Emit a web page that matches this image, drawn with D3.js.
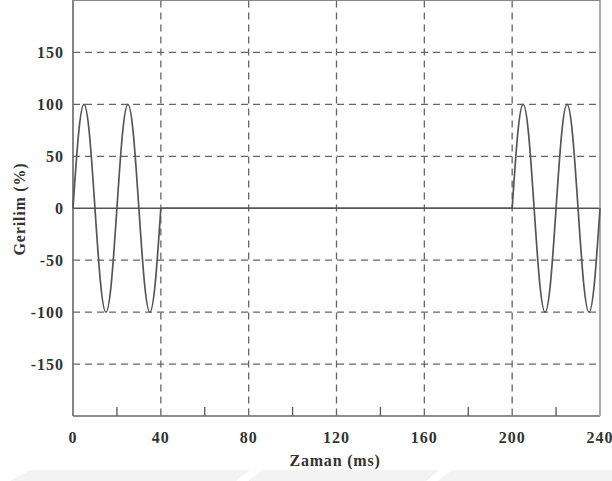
<!DOCTYPE html>
<html>
<head>
<meta charset="utf-8">
<script src="https://cdn.jsdelivr.net/npm/d3@7"></script>
<style>
	body { margin: 0; background: #fff; }
	.tick-label { font-family: "Liberation Serif", "DejaVu Serif", serif; font-weight: bold; font-size: 16px; letter-spacing: 1px; fill: #333; }
	.axis-title { font-family: "Liberation Serif", "DejaVu Serif", serif; font-weight: bold; font-size: 16px; letter-spacing: 0.8px; fill: #333; }
</style>
</head>
<body>
<svg id="chart" width="612" height="481"></svg>
<script>

// first burst, 0-40 ms (two full cycles, 50 Hz)
var burst1Time = [0, 2.5, 5, 7.5, 10, 12.5, 15, 17.5, 20, 22.5, 25, 27.5, 30, 32.5, 35, 37.5, 40];
var burst1Val  = [0, 71, 100, 71, 0, -71, -100, -71, 0, 71, 100, 71, 0, -71, -100, -71, 0];

// interruption, 40-200 ms
var gapTime = [40, 200];
var gapVal  = [0, 0];

// second burst, 200-240 ms
var burst2Time = [200, 202.5, 205, 207.5, 210, 212.5, 215, 217.5, 220, 222.5, 225, 227.5, 230, 232.5, 235, 237.5, 240];
var burst2Val  = [0, 71, 100, 71, 0, -71, -100, -71, 0, 71, 100, 71, 0, -71, -100, -71, 0];

var xTicks = [0, 40, 80, 120, 160, 200, 240];
var xMinor = [20, 60, 100, 140, 180, 220];
var yTicks = [150, 100, 50, 0, -50, -100, -150];

var svg = d3.select('#chart');
var g = svg.append('g');

var xScale = d3.scaleLinear().domain([0, 240]).range([73, 600]);
var yScale = d3.scaleLinear().domain([-200, 200]).range([416, 0.5]);

// faint watermark band at the bottom
var wm = [[30, 470, 250, 470, 236, 481, 10, 481], [262, 470, 440, 470, 426, 481, 248, 481], [452, 470, 612, 470, 612, 481, 438, 481]];
wm.forEach(function(p) {
	var pts = [];
	for (var i = 0; i < p.length; i += 2) pts.push(p[i] + ',' + p[i+1]);
	g.append('polygon')
		.attr('points', pts.join(' '))
		.style('fill', '#f3f3f3');
});

// horizontal grid (dashed), zero line solid
yTicks.forEach(function(v) {
	var l = g.append('line')
		.attr('x1', xScale(0))
		.attr('x2', xScale(240))
		.attr('y1', yScale(v))
		.attr('y2', yScale(v))
		.attr('stroke', v == 0 ? '#555' : '#666')
		.attr('stroke-width', v == 0 ? 1.6 : 1.3);
	if (v != 0) l.style('stroke-dasharray', '7,5');
});

// vertical grid (dashed)
xTicks.slice(1, -1).forEach(function(v) {
	g.append('line')
		.attr('x1', xScale(v))
		.attr('x2', xScale(v))
		.attr('y1', yScale(200))
		.attr('y2', yScale(-200))
		.attr('stroke', '#666')
		.attr('stroke-width', 1.3)
		.style('stroke-dasharray', '7,5');
});

// minor ticks along the bottom
xMinor.forEach(function(v) {
	g.append('line')
		.attr('x1', xScale(v))
		.attr('x2', xScale(v))
		.attr('y1', yScale(-200))
		.attr('y2', yScale(-200) - 9)
		.attr('stroke', '#555')
		.attr('stroke-width', 1.3);
});

// frame
g.append('line') // left
	.attr('x1', xScale(0)).attr('x2', xScale(0))
	.attr('y1', 0).attr('y2', yScale(-200))
	.attr('stroke', '#666').attr('stroke-width', 1.6);
g.append('line') // bottom
	.attr('x1', xScale(0)).attr('x2', xScale(240))
	.attr('y1', yScale(-200)).attr('y2', yScale(-200))
	.attr('stroke', '#666').attr('stroke-width', 1.6);
g.append('line') // right
	.attr('x1', xScale(240)).attr('x2', xScale(240))
	.attr('y1', 0).attr('y2', yScale(-200))
	.attr('stroke', '#aaa').attr('stroke-width', 2);
g.append('line') // top
	.attr('x1', xScale(0)).attr('x2', xScale(240))
	.attr('y1', 0.5).attr('y2', 0.5)
	.attr('stroke', '#888').attr('stroke-width', 1);

// waveform
function drawSeries(ts, vs, curve) {
	var line = d3.line()
		.x(function(d) { return xScale(d[0]); })
		.y(function(d) { return yScale(d[1]); })
		.curve(curve);
	g.append('path')
		.datum(d3.zip(ts, vs))
		.attr('d', line)
		.style('fill', 'none')
		.attr('stroke', '#555')
		.attr('stroke-width', 1.7);
}
drawSeries(burst1Time, burst1Val, d3.curveNatural);
drawSeries(gapTime, gapVal, d3.curveLinear);
drawSeries(burst2Time, burst2Val, d3.curveNatural);

// tick labels
yTicks.forEach(function(v) {
	g.append('text')
		.attr('x', 64)
		.attr('y', yScale(v) + 5.5)
		.text(v)
		.attr('class', 'tick-label')
		.attr('text-anchor', 'end');
});
xTicks.forEach(function(v) {
	g.append('text')
		.attr('x', xScale(v))
		.attr('y', 443)
		.text(v)
		.attr('class', 'tick-label')
		.attr('text-anchor', 'middle');
});

// axis titles
g.append('text')
	.attr('x', 335)
	.attr('y', 466)
	.text('Zaman (ms)')
	.attr('class', 'axis-title')
	.attr('text-anchor', 'middle');

g.append('text')
	.attr('transform', 'translate(25,' + 209 + ') rotate(-90)')
	.text('Gerilim (%)')
	.attr('class', 'axis-title')
	.attr('text-anchor', 'middle');

</script>
</body>
</html>
